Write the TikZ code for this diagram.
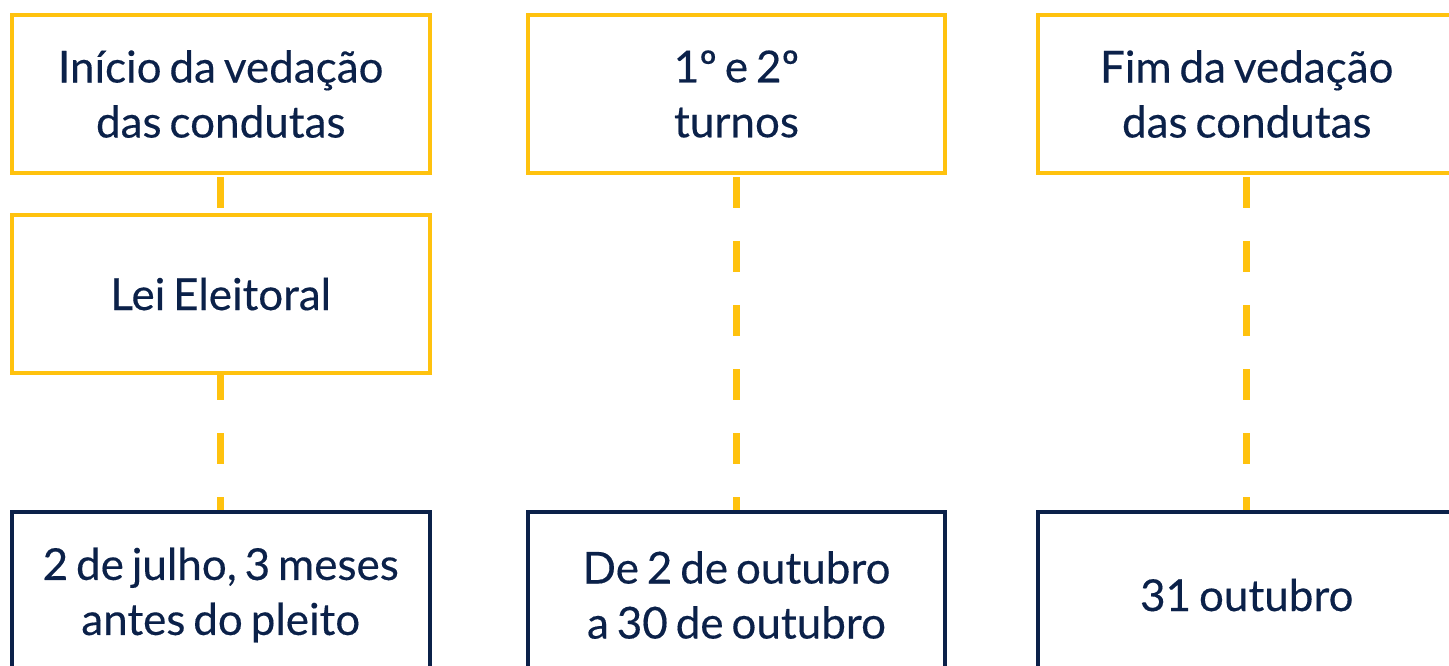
\documentclass[tikz,border=0pt]{standalone}
\usepackage{fontspec}
\setmainfont{Lato}[WordSpace=0.7,FakeBold=0.3]
\definecolor{gold}{HTML}{FFC20E}
\definecolor{navy}{HTML}{0B2149}
\pgfdeclarelayer{background}
\pgfsetlayers{background,main}
\tikzset{
  box/.style={draw, line width=4pt, fill=white, minimum width=417.5pt, inner sep=0pt,
    align=center, text=navy, font=\fontsize{44}{55}\selectfont},
  goldbox/.style={box, draw=gold, minimum height=158pt},
  navybox/.style={box, draw=navy, minimum height=167pt},
  link/.style={draw=gold, line width=7pt, dash pattern=on 31pt off 33pt},
}
\begin{document}
\begin{tikzpicture}[x=1pt,y=-1pt]
\useasboundingbox (0,0) rectangle (1449,666);
\node[goldbox] (t1) at (220.75,94) {Início da vedação\\das condutas};
\node[goldbox] (m1) at (220.75,294) {Lei Eleitoral};
\node[navybox] (b1) at (220.75,595) {2 de julho, 3 meses\\antes do pleito};
\node[goldbox] (t2) at (736.5,94) {1º e 2º\\turnos};
\node[navybox] (b2) at (736.5,595) {De 2 de outubro\\a 30 de outubro};
\node[goldbox] (t3) at (1246.75,94) {Fim da vedação\\das condutas};
\node[navybox] (b3) at (1246.75,595) {31 outubro};
\begin{pgfonlayer}{background}
\draw[link, dash phase=62pt] (t1.south) -- (m1.north);
\draw[link, dash phase=6pt] (m1.south) -- (b1.north);
\draw[link, dash phase=62pt] (t2.south) -- (b2.north);
\draw[link, dash phase=62pt] (t3.south) -- (b3.north);
\end{pgfonlayer}
\end{tikzpicture}
\end{document}
